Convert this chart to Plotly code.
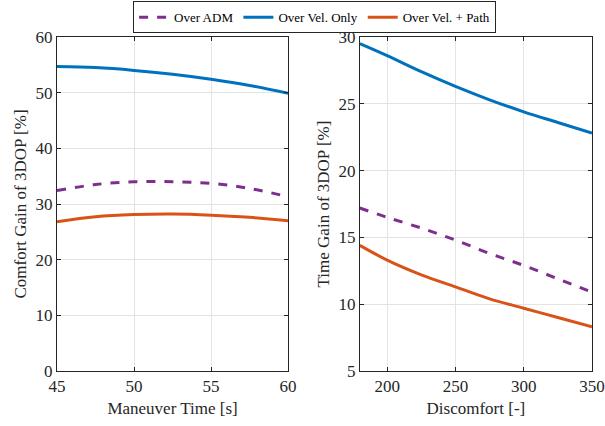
import plotly.graph_objects as go
from plotly.subplots import make_subplots

# Left panel: maneuver time
man_time = [45, 47.5, 50, 52.5, 55, 57.5, 60]
left_adm = [32.4, 33.5, 34.0, 34.0, 33.7, 32.8, 31.3]
left_vel = [54.7, 54.5, 54.0, 53.3, 52.4, 51.3, 49.9]
left_path = [26.8, 27.7, 28.1, 28.2, 28.0, 27.6, 27.0]

# Right panel: discomfort
discomfort = [180, 200, 225, 250, 275, 300, 325, 350]
right_adm = [17.2, 16.5, 15.7, 14.8, 13.8, 12.9, 11.9, 10.9]
right_vel = [29.5, 28.6, 27.4, 26.3, 25.3, 24.4, 23.6, 22.8]
right_path = [14.4, 13.3, 12.2, 11.3, 10.4, 9.7, 9.0, 8.3]

names = ["Over ADM", "Over Vel. Only", "Over Vel. + Path"]
colors = ["#7E2F8E", "#0072BD", "#D95319"]
dashes = ["dash", "solid", "solid"]

SERIF = "Liberation Serif, Times New Roman, serif"

fig = make_subplots(rows=1, cols=2)

for i, ys in enumerate([left_adm, left_vel, left_path]):
    fig.add_trace(go.Scatter(x=man_time, y=ys, mode="lines", name=names[i],
                             line=dict(color=colors[i], width=3, dash=dashes[i], shape="spline"),
                             showlegend=True), row=1, col=1)
for i, ys in enumerate([right_adm, right_vel, right_path]):
    fig.add_trace(go.Scatter(x=discomfort, y=ys, mode="lines", name=names[i],
                             line=dict(color=colors[i], width=3, dash=dashes[i], shape="spline"),
                             showlegend=False), row=1, col=2)

axis_common = dict(showline=True, linecolor="#262626", linewidth=1, mirror="ticks",
                   ticks="inside", ticklen=4, tickcolor="#262626", automargin=False,
                   showgrid=True, gridcolor="#E3E3E3", gridwidth=1, zeroline=False,
                   tickfont=dict(family=SERIF, size=17, color="#262626"),
                   title_font=dict(family=SERIF, size=17, color="#262626"))

fig.update_xaxes(**axis_common)
fig.update_yaxes(**axis_common)

fig.update_xaxes(range=[45, 60], tickvals=[45, 50, 55, 60], title_text="Maneuver Time [s]",
                 title_standoff=6, domain=[0, 0.432], row=1, col=1)
fig.update_yaxes(range=[0, 60], tickvals=[0, 10, 20, 30, 40, 50, 60],
                 title_text="Comfort Gain of 3DOP [%]", title_standoff=4, row=1, col=1)
fig.update_xaxes(range=[180, 350], tickvals=[200, 250, 300, 350], title_text="Discomfort [-]",
                 title_standoff=6, domain=[0.566, 1], row=1, col=2)
fig.update_yaxes(range=[5, 30], tickvals=[5, 10, 15, 20, 25, 30],
                 title_text="Time Gain of 3DOP [%]", title_standoff=4, row=1, col=2)

fig.update_layout(
    width=605, height=426,
    margin=dict(l=57, r=13, t=37, b=55),
    paper_bgcolor="white", plot_bgcolor="white",
    font=dict(family=SERIF, size=15, color="#262626"),
    legend=dict(orientation="h", x=0.52, xanchor="center", xref="container",
                y=0.997, yanchor="top", yref="container",
                bordercolor="#262626", borderwidth=1, bgcolor="white",
                font=dict(family=SERIF, size=13, color="#000000"),
                tracegroupgap=0, itemwidth=30),
)

fig.write_html("out.html")
